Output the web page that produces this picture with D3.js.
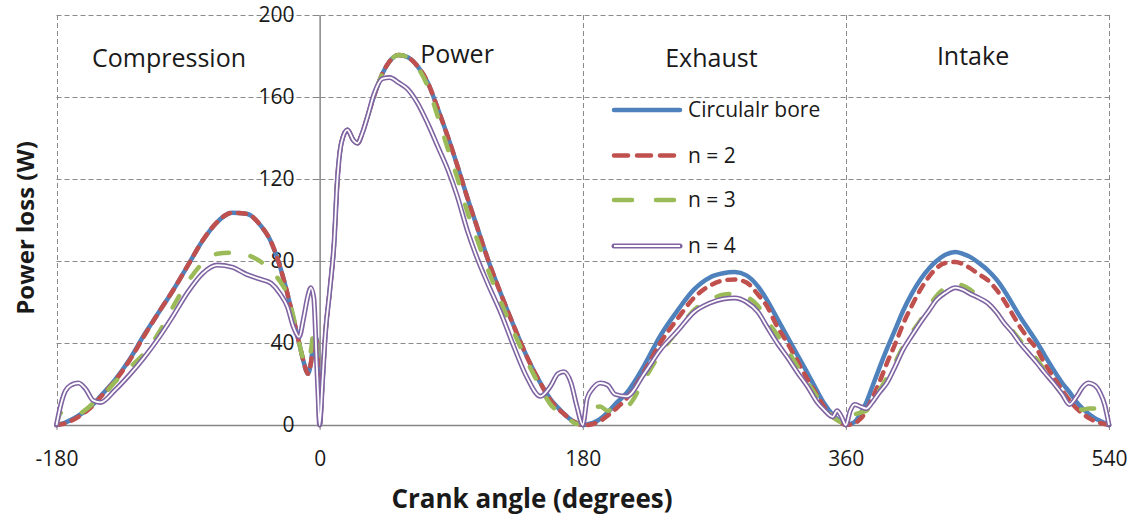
<!DOCTYPE html>
<html>
<head>
<meta charset="utf-8">
<script src="https://cdn.jsdelivr.net/npm/d3@7"></script>
<style>
  html, body { margin: 0; padding: 0; background: #fff; }
  svg { display: block; font-family: 'Open Sans', 'DejaVu Sans', sans-serif; }
</style>
</head>
<body>
<script>
// ---------------- DATA ----------------
const angles = [
  -180,-177,-174,-170,-165,-160,-155,-150,-140,-130,
  -120,-110,-100,-90,-80,-70,-60,-50,-40,-33,
  -27,-22,-18,-14,-11,-8,-6,-4,-2,-1,
  0,2,4,7,10,12,15,19,23,26,
  29,33,37,43,48,54,60,67,74,81,
  88,94,101,108,115,124,133,142,151,158,
  163,167,172,176,180,183,187,192,197,202,
  210,222,233,245,256,267,276,284,292,300,
  306,313,320,327,334,340,345,351,354,357,
  360,363,366,370,374,378,383,388,394,399,
  405,411,417,422,428,435,440,445,451,457,
  463,468,474,479,485,491,496,502,508,513,
  518,522,526,530,534,537,540
];

const circularBore = [
  0,0.5,1.2,2.5,4.5,7,10,14,22,32,
  44,55,66,78,90,99,103.5,103,97,89,
  77,64,52,40,31,25,30,41,42,22,
  0,22,45,66,90,118,138,144,139,137.5,
  142,151,160,171.5,177.5,180.5,179.5,175,167,154,
  140,127,111,96,81,64,48,33,20.5,12.5,
  8.5,5.5,2.5,1,0,0.3,1,3,6,10,
  15.6,29,43.5,56,66,72,74,74.6,73,67.5,
  61,52,43,34,25,17,10.7,5,3,1.5,
  0,0.5,1.5,5.5,11,18.5,28,37,47,55.5,
  64,71,76.5,80,83,84.4,83.5,82,79,75.6,
  71,66,59,53,46.5,40,34,27,20.5,16,
  11,8,5.5,3.5,2,1,0
];

const n2 = [
  0,0.3,0.8,2,4,6.5,9.5,13.5,21.5,31.5,
  43.5,55,66,78,90,99,103.5,103,97,89,
  77,64,52,40,31,25,30,41,42,22,
  0,22,45,66,90,118,138,144,139,137.5,
  142,151,160,171.5,177.5,180.5,179.5,175,167,154,
  140,127,111,96,81,64,48,33,20.5,12,
  8,5.5,2.5,0.8,0,0,0.5,2,4.5,7.5,
  13,26,40,52,62,68,70.5,71,69.5,63.5,
  58,48,40,31,22,15,9,4,2.5,1,
  0,0.2,0.8,3,7,13,21,30,40,49,
  58,66,72.5,76.5,79,79.5,78.5,76.5,73.5,70.7,
  66,61,54,48,42,36.6,30,23.4,17,12,
  8,5.5,3.5,2,1,0.5,0
];

const n3 = [
  0,6,6.5,5.5,5.5,7.5,10.5,13,21,28,
  35,45,58,70,79,83.5,84,83,79.5,75,
  70,63.5,53,40,32,30,36,46,40,20,
  0,22,45,66,90,118,138,144,139,137.5,
  142,151,160,171.5,177.5,180.5,179.5,174.5,165,150,
  134,121,104,90,76,60,45,31,18.5,10,
  6.5,4,2,0.5,3,7,8.5,9,7,8,
  9,22,35,46,56,61,63.5,64,62.5,58,
  51,44,36.6,28.5,20.5,14,9,4,2.4,1,
  0,2,5,6,7,11.5,17,23,31,38,
  45,51,58,63,67,69,68,66,62.5,59.5,
  55,51,46,41.5,36.5,31.7,26.5,20.5,15,10.7,
  8,7.5,8,8,6.5,3.5,0
];

const n4 = [
  0,10,16.5,19.5,20.5,17.5,12,11,17,24.5,
  33,42.6,53.5,65,74,78,77,73.5,71,69,
  64,57.6,48,43,52,63,67,62,30,14,
  0,22,45,66,90,118,138,144,139,137.5,
  142,151,161,169,169.5,167,164,157,147,135.6,
  124,112,95,81,69,54.6,38,23,14,19,
  25,26,20.5,9,0,13,18,20.5,19.5,15,
  14,25,36.6,46,55,59.5,61.5,62,60,55,
  48,40,33,25.5,18.5,11.5,7.5,4,7,4,
  0,7,10,9,8,11,16,20.5,29,36.6,
  43.5,50,56,61,64.5,67,66,64,62,59.5,
  55,50,45,40,35,30,25.5,20.5,15,10,
  14,18.5,20.5,19.5,15.6,10,0
];

const seriesNames = ["Circulalr bore", "n = 2", "n = 3", "n = 4"];
const xTicks = [-180, 0, 180, 360, 540];
const yTicks = [0, 40, 80, 120, 160, 200];
const strokes = ["Compression", "Power", "Exhaust", "Intake"];
const strokeLabelAngles = [-103, 94, 268, 447];
const strokeLabelValues = [184.5, 186.5, 184.5, 185.5];

// ---------------- LAYOUT ----------------
const W = 1134, H = 517;
const svg = d3.select("body").append("svg").attr("width", W).attr("height", H);

const x = d3.scaleLinear().domain([-180, 540]).range([56.5, 1109]);
const y = d3.scaleLinear().domain([0, 200]).range([425, 15]);

const gridColor = "#8a8a8a";
const axisColor = "#868686";

// gridlines
svg.append("g").selectAll("line").data(yTicks.filter(d => d > 0)).join("line")
  .attr("x1", x(-180)).attr("x2", x(540))
  .attr("y1", d => Math.round(y(d)) + 0.5).attr("y2", d => Math.round(y(d)) + 0.5)
  .attr("stroke", gridColor).attr("stroke-width", 1).attr("stroke-dasharray", "5,3");
svg.append("g").selectAll("line").data(xTicks.filter(d => d !== 0)).join("line")
  .attr("x1", d => Math.round(x(d)) + 0.5).attr("x2", d => Math.round(x(d)) + 0.5)
  .attr("y1", y(200)).attr("y2", y(0))
  .attr("stroke", gridColor).attr("stroke-width", 1).attr("stroke-dasharray", "5,3");

// axes
const fmt = d => String(d);
const xAxis = svg.append("g").attr("transform", `translate(0,${y(0)})`)
  .call(d3.axisBottom(x).tickValues(xTicks).tickFormat(fmt).tickSize(5).tickSizeOuter(0).tickPadding(21));
const yAxis = svg.append("g").attr("transform", `translate(${x(0)},0)`)
  .call(d3.axisLeft(y).tickValues(yTicks).tickFormat(fmt).tickSize(5).tickSizeOuter(0).tickPadding(20));
[xAxis, yAxis].forEach(g => {
  g.select(".domain").attr("stroke", axisColor).attr("stroke-width", 1.5);
  g.selectAll(".tick line").attr("stroke", axisColor).attr("stroke-width", 1);
  g.selectAll(".tick text").attr("font-size", 21).attr("fill", "#1a1a1a")
    .attr("font-family", "'Open Sans', sans-serif");
});

// stroke phase labels
svg.append("g").selectAll("text").data(strokes).join("text")
  .attr("x", (d, i) => x(strokeLabelAngles[i]))
  .attr("y", (d, i) => y(strokeLabelValues[i]) + 20)
  .attr("text-anchor", "middle").attr("font-size", 25).attr("fill", "#1a1a1a")
  .text(d => d);

// series
const valuesList = [circularBore, n2, n3, n4];
const line = d3.line().x(d => x(d[0])).y(d => y(d[1])).curve(d3.curveMonotoneX);
const styles = [
  { color: "#4F81BD", width: 4.5, dash: null, cap: "round" },
  { color: "#C0504D", width: 4.5, dash: "8,8", cap: "round" },
  { color: "#9BBB59", width: 4.5, dash: "13,22", cap: "round" },
  { color: "#8064A2", width: 5, dash: null, cap: "round", double: true }
];

const plot = svg.append("g");
valuesList.forEach((vals, i) => {
  const pts = angles.map((a, k) => [a, vals[k]]);
  const st = styles[i];
  const p = plot.append("path").datum(pts).attr("d", line)
    .attr("fill", "none").attr("stroke", st.color).attr("stroke-width", st.width)
    .attr("stroke-linecap", st.cap).attr("stroke-linejoin", "round");
  if (st.dash) p.attr("stroke-dasharray", st.dash);
  if (st.double) {
    plot.append("path").datum(pts).attr("d", line)
      .attr("fill", "none").attr("stroke", "#fff").attr("stroke-width", 1.8)
      .attr("stroke-linejoin", "round");
  }
});

// legend
const legendRows = [110, 155.5, 200, 246];
const legend = svg.append("g");
seriesNames.forEach((name, i) => {
  const st = styles[i];
  const ly = legendRows[i];
  const l = legend.append("line").attr("x1", 614).attr("x2", 680).attr("y1", ly).attr("y2", ly)
    .attr("stroke", st.color).attr("stroke-width", st.width).attr("stroke-linecap", "round");
  if (i === 1) l.attr("stroke-dasharray", "14,9");
  if (i === 2) l.attr("stroke-dasharray", "18,24");
  if (st.double) {
    legend.append("line").attr("x1", 614).attr("x2", 680).attr("y1", ly).attr("y2", ly)
      .attr("stroke", "#fff").attr("stroke-width", 1.8);
  }
  legend.append("text").attr("x", 688).attr("y", ly).attr("dy", "0.35em")
    .attr("font-size", 21).attr("fill", "#1a1a1a").text(name);
});

// axis titles
svg.append("text").attr("x", 532).attr("y", 508).attr("text-anchor", "middle")
  .attr("font-size", 26).attr("font-weight", "bold").attr("fill", "#1a1a1a")
  .text("Crank angle (degrees)");
svg.append("text").attr("transform", "translate(34,228) rotate(-90)")
  .attr("text-anchor", "middle")
  .attr("font-size", 24).attr("font-weight", "bold").attr("fill", "#1a1a1a")
  .text("Power loss (W)");
</script>
</body>
</html>
